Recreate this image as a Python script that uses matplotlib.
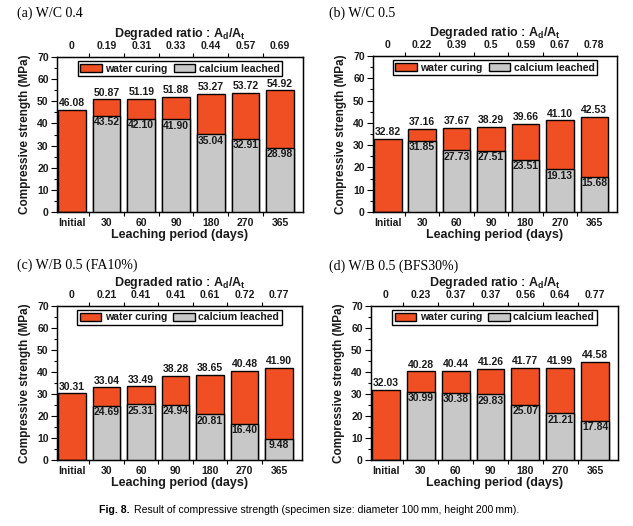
import matplotlib
matplotlib.use("Agg")
import numpy as np
from matplotlib import pyplot as plt
from matplotlib.ticker import FixedLocator, MultipleLocator

plt.rcParams['font.family'] = ['Liberation Sans', 'DejaVu Sans']

periods = ["Initial", "30", "60", "90", "180", "270", "365"]

titles = ["(a) W/C 0.4", "(b) W/C 0.5", "(c) W/B 0.5 (FA10%)", "(d) W/B 0.5 (BFS30%)"]

water_a = [46.08, 50.87, 51.19, 51.88, 53.27, 53.72, 54.92]
leached_a = [43.52, 42.10, 41.90, 35.04, 32.91, 28.98]
ratio_a = ["0", "0.19", "0.31", "0.33", "0.44", "0.57", "0.69"]

water_b = [32.82, 37.16, 37.67, 38.29, 39.66, 41.10, 42.53]
leached_b = [31.85, 27.73, 27.51, 23.51, 19.13, 15.68]
ratio_b = ["0", "0.22", "0.39", "0.5", "0.59", "0.67", "0.78"]

water_c = [30.31, 33.04, 33.49, 38.28, 38.65, 40.48, 41.90]
leached_c = [24.69, 25.31, 24.94, 20.81, 16.40, 9.48]
ratio_c = ["0", "0.21", "0.41", "0.41", "0.61", "0.72", "0.77"]

water_d = [32.03, 40.28, 40.44, 41.26, 41.77, 41.99, 44.58]
leached_d = [30.99, 30.38, 29.83, 25.07, 21.21, 17.84]
ratio_d = ["0", "0.23", "0.37", "0.37", "0.56", "0.64", "0.77"]

ORANGE = '#F04F23'
GRAY = '#C8C8C8'
TXT = '#1a1a1a'

W, H = 633, 526
# axes boxes in pixels: left, top, right, bottom
boxes = [(57, 57, 303, 212), (373, 56, 617, 212), (57, 306, 302, 460), (371, 306, 618, 460)]
title_pos = [(17, 13), (329, 13), (17, 265), (329, 266)]

fig = plt.figure(figsize=(W / 100, H / 100), dpi=100)

panels = [(water_a, leached_a, ratio_a), (water_b, leached_b, ratio_b),
          (water_c, leached_c, ratio_c), (water_d, leached_d, ratio_d)]

for k, (water, leached, ratio) in enumerate(panels):
    l, t, r, b = boxes[k]
    ax = fig.add_axes([l / W, 1 - b / H, (r - l) / W, (b - t) / H])
    x = np.arange(len(periods))
    ax.bar(x, water, width=0.8, color=ORANGE, edgecolor='black', linewidth=1.0,
           label='water curing', zorder=2)
    ax.bar(x[1:], leached, width=0.8, color=GRAY, edgecolor='black', linewidth=1.0,
           label='calcium leached', zorder=3)

    for xi, v in zip(x, water):
        ax.text(xi, v + 0.8, f"{v:.2f}", ha='center', va='bottom', fontsize=7.5,
                fontweight='bold', color=TXT, zorder=5)
    for xi, v in zip(x[1:], leached):
        ax.text(xi, v - 0.6, f"{v:.2f}", ha='center', va='top', fontsize=7.5,
                fontweight='bold', color=TXT, zorder=5)

    ax.set_xlim(-0.43, 6.66)
    ax.set_ylim(0, 70)
    ax.yaxis.set_major_locator(MultipleLocator(10))
    ax.yaxis.set_minor_locator(MultipleLocator(5))
    ax.set_xticks(x)
    ax.set_xticklabels(periods)
    ax.xaxis.set_minor_locator(FixedLocator(x[:-1] + 0.5))
    ax.tick_params(axis='x', which='major', length=0, pad=4)
    ax.tick_params(axis='x', which='minor', length=3, direction='out', width=0.8)
    ax.tick_params(axis='y', which='major', length=4, direction='out', width=0.8, pad=2)
    ax.tick_params(axis='y', which='minor', length=2, direction='out', width=0.8)
    for lab in ax.get_xticklabels() + ax.get_yticklabels():
        lab.set_fontweight('bold')
        lab.set_fontsize(7.5)
        lab.set_color(TXT)
    for sp in ax.spines.values():
        sp.set_linewidth(1.0)
    ax.set_xlabel("Leaching period (days)", fontsize=9, fontweight='bold', labelpad=1, color=TXT)
    ax.set_ylabel("Compressive strength (MPa)", fontsize=8.5, fontweight='bold', labelpad=4, color=TXT)

    top = ax.twiny()
    top.set_xlim(ax.get_xlim())
    top.set_xticks(x)
    top.set_xticklabels(ratio)
    top.xaxis.set_minor_locator(FixedLocator(x[:-1] + 0.5))
    top.tick_params(axis='x', which='major', length=0, pad=4)
    top.tick_params(axis='x', which='minor', length=3, direction='out', width=0.8)
    for lab in top.get_xticklabels():
        lab.set_fontweight('bold')
        lab.set_fontsize(7.5)
        lab.set_color(TXT)
    top.set_xlabel(r"Degraded ratio : A$_\mathregular{d}$/A$_\mathregular{t}$", fontsize=9,
                   fontweight='bold', labelpad=3, color=TXT)

    leg = ax.legend(loc='upper center', bbox_to_anchor=(0.5, 0.975), ncol=2, fontsize=7.6,
                    frameon=True, fancybox=False, edgecolor='black', framealpha=1,
                    handlelength=2.0, handleheight=0.8, handletextpad=0.35,
                    columnspacing=0.6, borderpad=0.25, borderaxespad=0)
    leg.get_frame().set_linewidth(1.0)
    for tx in leg.get_texts():
        tx.set_fontweight('bold')
        tx.set_color(TXT)
    leg.set_zorder(6)

    tx0, ty0 = title_pos[k]
    fig.text(tx0 / W, 1 - ty0 / H, titles[k], fontsize=10, family='Liberation Serif',
             ha='left', va='center')

fig.text(99 / W, 1 - 510 / H, "Fig. 8.", fontsize=7.6, fontweight='bold', ha='left', va='center')
fig.text(134 / W, 1 - 510 / H,
         "Result of compressive strength (specimen size: diameter 100\u2009mm, height 200\u2009mm).",
         fontsize=7.6, ha='left', va='center')

fig.savefig("out.png", dpi=100)
